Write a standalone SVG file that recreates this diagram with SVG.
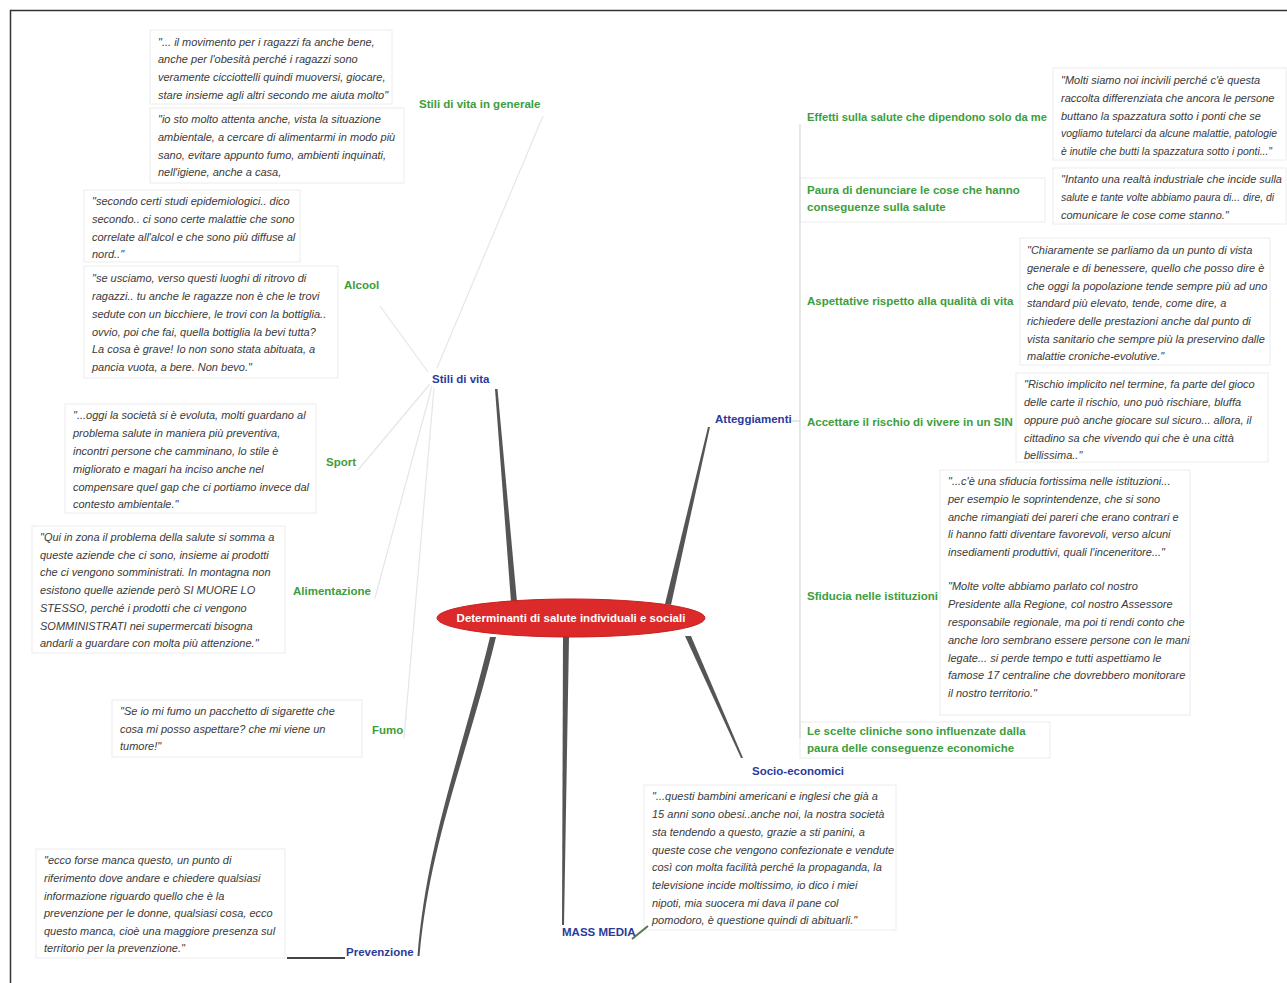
<svg xmlns="http://www.w3.org/2000/svg" width="1287" height="983" viewBox="0 0 1287 983">
  <style>
    .q { font-family: "Liberation Sans", Arial, sans-serif; font-style: italic; font-size: 11px; fill: #3a3a3a; }
    .qs { font-size: 10.4px; }
    .g { font-family: "Liberation Sans", Arial, sans-serif; font-weight: bold; font-size: 11.5px; fill: #3c9e3c; }
    .b { font-family: "Liberation Sans", Arial, sans-serif; font-weight: bold; font-size: 11.5px; fill: #2c3a9c; }
    .c { font-family: "Liberation Sans", Arial, sans-serif; font-weight: bold; font-size: 11.5px; fill: #ffffff; }
    .box { fill: #ffffff; stroke: #ececec; stroke-width: 1; }
    .main { fill: #555555; }
    .sub { fill: none; stroke: #e6e6e6; stroke-width: 1.2; }
    .bracket { fill: none; stroke: #d8d8d8; stroke-width: 1.2; }
  </style>

  <rect width="1287" height="983" fill="#ffffff"/>
  <!-- outer frame -->
  <path d="M10.5 983 V10.5 H1287" fill="none" stroke="#333333" stroke-width="1.5"/>

  <!-- quote boxes -->
  <g id="boxes">
    <rect class="box" x="150" y="30" width="242" height="74"/>
    <rect class="box" x="150" y="108" width="254" height="75"/>
    <rect class="box" x="84" y="190" width="216" height="72"/>
    <rect class="box" x="84" y="266" width="254" height="112"/>
    <rect class="box" x="65" y="404" width="251" height="109"/>
    <rect class="box" x="32" y="526" width="253" height="127"/>
    <rect class="box" x="112" y="700" width="250" height="57"/>
    <rect class="box" x="36" y="849" width="249" height="109"/>
    <rect class="box" x="1053" y="68" width="233" height="92"/>
    <rect class="box" x="1053" y="168" width="233" height="56"/>
    <rect class="box" x="1020" y="238" width="250" height="127"/>
    <rect class="box" x="1016" y="373" width="252" height="89"/>
    <rect class="box" x="940" y="470" width="250" height="245"/>
    <rect class="box" x="644" y="785" width="252" height="145"/>
    <rect class="box" x="800" y="178" width="245" height="44"/>
    <rect class="box" x="800" y="722" width="250" height="36"/>
  </g>

  <!-- connectors -->
  <g id="connectors">
    <!-- main branches (tapered) -->
    <path class="main" d="M511 602 L517 602 L497.5 389 L495 389 Z"/>
    <path class="main" d="M665 604 L671 605 L710 427 L708 427 Z"/>
    <path class="main" d="M490 637 L496 637 C466 760 430 840 419.5 956 L417.5 956 C427 840 460 760 490 637 Z"/>
    <path class="main" d="M563 637 L569 637 L564 925 L562 925 Z"/>
    <path class="main" d="M685 636 L691 636 L743 758 L741 758 Z"/>
    <!-- topic underlines to quotes -->
    <path d="M287 958 H345" stroke="#444444" stroke-width="2" fill="none"/>
    <path d="M632 939 L648 926" stroke="#557755" stroke-width="2" fill="none"/>
    <!-- Stili di vita sub branches -->
    <path class="sub" d="M437 368 L543 116"/>
    <path class="sub" d="M428 372 L380 306"/>
    <path class="sub" d="M430 384 L358 470"/>
    <path class="sub" d="M432 386 L375 598"/>
    <path class="sub" d="M434 388 L404 738"/>
    <!-- Atteggiamenti bracket -->
    <path class="bracket" d="M792 421 H800"/>
    <path class="bracket" d="M800 124 V738"/>
  </g>

  <!-- central node -->
  <g id="center">
    <ellipse cx="571" cy="618" rx="134" ry="19" fill="#dc2a2a" stroke="#c81e1e" stroke-width="1"/>
    <text class="c" x="571" y="622" text-anchor="middle">Determinanti di salute individuali e sociali</text>
  </g>

  <!-- main topics -->
  <g id="stili-di-vita"><text class="b" x="432" y="383">Stili di vita</text></g>
  <g id="atteggiamenti"><text class="b" x="715" y="423">Atteggiamenti</text></g>
  <g id="socio-economici"><text class="b" x="752" y="775">Socio-economici</text></g>
  <g id="mass-media"><text class="b" x="562" y="936">MASS MEDIA</text></g>
  <g id="prevenzione"><text class="b" x="346" y="956">Prevenzione</text></g>

  <!-- Stili di vita subtopics -->
  <g id="stili-generale">
    <text class="g" x="419" y="108">Stili di vita in generale</text>
    <text class="q">
      <tspan x="158" y="46">"... il movimento per i ragazzi fa anche bene,</tspan>
      <tspan x="158" y="63">anche per l'obesità perché i ragazzi sono</tspan>
      <tspan x="158" y="81">veramente  cicciottelli quindi muoversi, giocare,</tspan>
      <tspan x="158" y="99">stare insieme agli altri secondo me aiuta molto"</tspan>
    </text>
    <text class="q">
      <tspan x="158" y="123">"io sto molto attenta anche, vista la situazione</tspan>
      <tspan x="158" y="141">ambientale, a cercare di alimentarmi in modo più</tspan>
      <tspan x="158" y="159">sano, evitare appunto fumo, ambienti inquinati,</tspan>
      <tspan x="158" y="176">nell'igiene, anche a casa,</tspan>
    </text>
  </g>

  <g id="alcool">
    <text class="g" x="344" y="289">Alcool</text>
    <text class="q">
      <tspan x="92" y="205">"secondo certi studi epidemiologici.. dico</tspan>
      <tspan x="92" y="223">secondo.. ci sono certe malattie che sono</tspan>
      <tspan x="92" y="241">correlate all'alcol e che sono più diffuse al</tspan>
      <tspan x="92" y="258">nord.."</tspan>
    </text>
    <text class="q">
      <tspan x="92" y="282">"se usciamo, verso questi luoghi di ritrovo di</tspan>
      <tspan x="92" y="300">ragazzi.. tu anche le ragazze non è che le trovi</tspan>
      <tspan x="92" y="318">sedute con un bicchiere, le trovi con la bottiglia..</tspan>
      <tspan x="92" y="336">ovvio, poi che fai, quella bottiglia la bevi tutta?</tspan>
      <tspan x="92" y="353">La cosa è grave! Io non sono stata abituata, a</tspan>
      <tspan x="92" y="371">pancia vuota, a bere. Non bevo."</tspan>
    </text>
  </g>

  <g id="sport">
    <text class="g" x="326" y="466">Sport</text>
    <text class="q">
      <tspan x="73" y="419">"...oggi la società si è evoluta, molti guardano al</tspan>
      <tspan x="73" y="437">problema salute in maniera più preventiva,</tspan>
      <tspan x="73" y="455">incontri persone che camminano, lo stile è</tspan>
      <tspan x="73" y="473">migliorato e magari ha inciso anche nel</tspan>
      <tspan x="73" y="491">compensare quel gap che ci portiamo invece dal</tspan>
      <tspan x="73" y="508">contesto ambientale."</tspan>
    </text>
  </g>

  <g id="alimentazione">
    <text class="g" x="293" y="595">Alimentazione</text>
    <text class="q">
      <tspan x="40" y="541">"Qui in zona il problema della salute si somma a</tspan>
      <tspan x="40" y="559">queste aziende che ci sono, insieme ai prodotti</tspan>
      <tspan x="40" y="576">che ci vengono somministrati. In montagna non</tspan>
      <tspan x="40" y="594">esistono quelle aziende però SI MUORE LO</tspan>
      <tspan x="40" y="612">STESSO, perché i prodotti che ci vengono</tspan>
      <tspan x="40" y="630">SOMMINISTRATI nei supermercati bisogna</tspan>
      <tspan x="40" y="647">andarli a guardare con molta più attenzione."</tspan>
    </text>
  </g>

  <g id="fumo">
    <text class="g" x="372" y="734">Fumo</text>
    <text class="q">
      <tspan x="120" y="715">"Se io mi fumo un pacchetto di sigarette che</tspan>
      <tspan x="120" y="733">cosa mi posso aspettare? che mi viene un</tspan>
      <tspan x="120" y="750">tumore!"</tspan>
    </text>
  </g>

  <g id="prevenzione-quote">
    <text class="q">
      <tspan x="44" y="864">"ecco forse manca questo, un punto di</tspan>
      <tspan x="44" y="882">riferimento dove andare e chiedere qualsiasi</tspan>
      <tspan x="44" y="900">informazione riguardo quello che è la</tspan>
      <tspan x="44" y="917">prevenzione per le donne, qualsiasi cosa, ecco</tspan>
      <tspan x="44" y="935">questo manca, cioè una maggiore presenza sul</tspan>
      <tspan x="44" y="952">territorio per la prevenzione."</tspan>
    </text>
  </g>

  <!-- Atteggiamenti subtopics -->
  <g id="effetti">
    <text class="g" x="807" y="121" textLength="240" lengthAdjust="spacingAndGlyphs">Effetti sulla salute che dipendono solo da me</text>
    <text class="q">
      <tspan x="1061" y="84">"Molti siamo noi incivili perché c'è questa</tspan>
      <tspan x="1061" y="102">raccolta differenziata che ancora le persone</tspan>
      <tspan x="1061" y="120">buttano la spazzatura sotto i ponti che se</tspan>
    </text>
    <text class="q qs" x="1061" y="137">vogliamo tutelarci da alcune malattie, patologie</text>
    <text class="q qs" x="1061" y="155">è inutile che butti la spazzatura sotto i ponti..."</text>
  </g>

  <g id="paura">
    <text class="g">
      <tspan x="807" y="194">Paura di denunciare le cose che hanno</tspan>
      <tspan x="807" y="211">conseguenze sulla salute</tspan>
    </text>
    <text class="q" x="1061" y="183">"Intanto una realtà industriale che incide sulla</text>
    <text class="q qs" x="1061" y="201">salute e tante volte abbiamo paura di... dire, di</text>
    <text class="q" x="1061" y="219">comunicare le cose come stanno."</text>
  </g>

  <g id="aspettative">
    <text class="g" x="807" y="305">Aspettative rispetto alla qualità di vita</text>
    <text class="q">
      <tspan x="1027" y="254">"Chiaramente se parliamo da un punto di vista</tspan>
      <tspan x="1027" y="272">generale e di benessere, quello che posso dire è</tspan>
      <tspan x="1027" y="290">che oggi la popolazione tende sempre più ad uno</tspan>
      <tspan x="1027" y="307">standard più elevato, tende, come dire, a</tspan>
      <tspan x="1027" y="325">richiedere delle prestazioni anche dal punto di</tspan>
      <tspan x="1027" y="343">vista sanitario che sempre più la preservino dalle</tspan>
      <tspan x="1027" y="360">malattie croniche-evolutive."</tspan>
    </text>
  </g>

  <g id="accettare">
    <text class="g" x="807" y="426">Accettare il rischio di vivere in un SIN</text>
    <text class="q">
      <tspan x="1024" y="388">"Rischio implicito nel termine, fa parte del gioco</tspan>
      <tspan x="1024" y="406">delle carte il rischio, uno può rischiare, bluffa</tspan>
      <tspan x="1024" y="424">oppure può anche giocare sul sicuro... allora, il</tspan>
      <tspan x="1024" y="442">cittadino sa che vivendo qui che è una città</tspan>
      <tspan x="1024" y="459">bellissima.."</tspan>
    </text>
  </g>

  <g id="sfiducia">
    <text class="g" x="807" y="600">Sfiducia nelle istituzioni</text>
    <text class="q">
      <tspan x="948" y="485">"...c'è una sfiducia fortissima nelle istituzioni...</tspan>
      <tspan x="948" y="503">per esempio le soprintendenze, che si sono</tspan>
      <tspan x="948" y="521">anche rimangiati dei pareri che erano contrari e</tspan>
      <tspan x="948" y="538">li hanno fatti diventare favorevoli, verso alcuni</tspan>
      <tspan x="948" y="556">insediamenti produttivi, quali l'inceneritore..."</tspan>
    </text>
    <text class="q">
      <tspan x="948" y="590">"Molte volte abbiamo parlato col nostro</tspan>
      <tspan x="948" y="608">Presidente alla Regione, col nostro Assessore</tspan>
      <tspan x="948" y="626">responsabile regionale, ma poi ti rendi conto che</tspan>
      <tspan x="948" y="644">anche loro sembrano essere persone con le mani</tspan>
      <tspan x="948" y="662">legate... si perde tempo e tutti aspettiamo le</tspan>
      <tspan x="948" y="679">famose 17 centraline che dovrebbero monitorare</tspan>
      <tspan x="948" y="697">il nostro territorio."</tspan>
    </text>
  </g>

  <g id="scelte-cliniche">
    <text class="g">
      <tspan x="807" y="735">Le scelte cliniche sono influenzate dalla</tspan>
      <tspan x="807" y="752">paura delle conseguenze economiche</tspan>
    </text>
  </g>

  <g id="socio-quote">
    <text class="q">
      <tspan x="652" y="800">"...questi bambini americani e inglesi che già a</tspan>
      <tspan x="652" y="818">15 anni sono obesi..anche noi, la nostra società</tspan>
      <tspan x="652" y="836">sta tendendo a questo, grazie a sti panini, a</tspan>
      <tspan x="652" y="854">queste cose che vengono confezionate e vendute</tspan>
      <tspan x="652" y="871">così con molta facilità perché la propaganda, la</tspan>
      <tspan x="652" y="889">televisione incide moltissimo, io dico i miei</tspan>
      <tspan x="652" y="907">nipoti, mia suocera mi dava il pane col</tspan>
      <tspan x="652" y="924">pomodoro, è questione quindi di abituarli."</tspan>
    </text>
  </g>
</svg>
